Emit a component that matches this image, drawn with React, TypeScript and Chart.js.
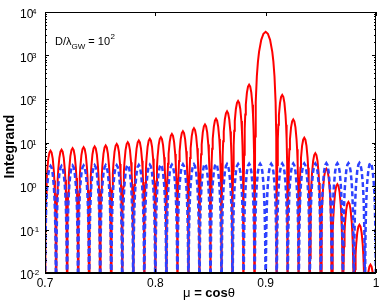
import React, { useEffect, useRef } from "react";
import { Chart, registerables } from "chart.js";

Chart.register(...registerables);

// ---- data ----
// zero crossings of the red (solid) curve
const redEdges = [
  0.70, 0.71, 0.72, 0.73, 0.74, 0.75, 0.76, 0.77, 0.78, 0.79, 0.80, 0.81, 0.82, 0.83, 0.84,
  0.85, 0.86, 0.87, 0.88, 0.89, 0.91, 0.92, 0.93, 0.94, 0.95, 0.96, 0.97, 0.98, 0.99, 1.00,
];
// peak value of each red lobe (between consecutive edges)
const redPeaks = [
  6.5, 6.8, 7.4, 7.8, 8.1, 8.5, 9.3, 10.2, 11.1, 12.2, 13.3, 15.8, 18.2, 21.4, 26,
  35, 52, 90, 214, 3500, 124, 34, 12.8, 5.7, 2.5, 1.1, 0.43, 0.128, 0.0155,
];
// zero crossings of the blue (dashed) curve
const blueEdges = [
  0.70, 0.71, 0.72, 0.73, 0.74, 0.75, 0.76, 0.77, 0.78, 0.79, 0.80, 0.81, 0.82, 0.83, 0.84, 0.85,
  0.86, 0.87, 0.88, 0.89, 0.90, 0.91, 0.92, 0.93, 0.94, 0.95, 0.96, 0.97, 0.98, 0.99, 1.00,
];
const bluePeaks = [
  2.9, 2.9, 2.95, 2.95, 3.0, 3.0, 3.0, 3.05, 3.05, 3.1, 3.1, 3.1, 3.15, 3.15, 3.2,
  3.2, 3.2, 3.2, 3.25, 3.25, 3.25, 3.3, 3.3, 3.3, 3.3, 3.35, 3.35, 3.35, 3.4, 3.4,
];
// shape of one lobe: fractional position across the lobe and relative height
const lobeT = [0, 0.02, 0.05, 0.1, 0.15, 0.2, 0.3, 0.4, 0.5, 0.6, 0.7, 0.8, 0.85, 0.9, 0.95, 0.98];
const lobeRel = [0, 0.0039, 0.0245, 0.0955, 0.206, 0.345, 0.655, 0.905, 1, 0.905, 0.655, 0.345, 0.206, 0.0955, 0.0245, 0.0039];
const ZERO = 1e-6;

const xTicks = [0.7, 0.8, 0.9, 1.0];
const xTickLabels = ["0.7", "0.8", "0.9", "1"];
const yExps = [-2, -1, 0, 1, 2, 3, 4];
const yExpLabels = ["-2", "-1", "0", "1", "2", "3", "4"];

function buildSeries(edges: number[], peaks: number[]) {
  const pts: { x: number; y: number }[] = [];
  for (let i = 0; i < peaks.length; i++) {
    const a = edges[i];
    const b = edges[i + 1];
    for (let j = 0; j < lobeT.length; j++) {
      pts.push({ x: a + lobeT[j] * (b - a), y: j === 0 ? ZERO : peaks[i] * lobeRel[j] });
    }
  }
  pts.push({ x: edges[edges.length - 1], y: ZERO });
  return pts;
}

const FONT = "'Liberation Sans', Arial, Helvetica, sans-serif";

const decor = {
  id: "decor",
  afterDraw(chart: any) {
    const { ctx, chartArea: a, scales } = chart;
    const xs = scales.x;
    const ys = scales.y;
    ctx.save();
    ctx.strokeStyle = "#000";
    ctx.fillStyle = "#000";
    // frame
    ctx.lineWidth = 1;
    ctx.beginPath();
    ctx.moveTo(a.left + 0.5, a.bottom);
    ctx.lineTo(a.left + 0.5, a.top + 0.5);
    ctx.lineTo(a.right - 0.5, a.top + 0.5);
    ctx.lineTo(a.right - 0.5, a.bottom);
    ctx.stroke();
    ctx.lineWidth = 2;
    ctx.beginPath();
    ctx.moveTo(a.left, a.bottom);
    ctx.lineTo(a.right, a.bottom);
    ctx.stroke();
    // x ticks
    ctx.lineWidth = 1;
    ctx.beginPath();
    xTicks.forEach((v) => {
      const px = Math.round(xs.getPixelForValue(v)) + 0.5;
      ctx.moveTo(px, a.bottom);
      ctx.lineTo(px, a.bottom - 4);
      ctx.moveTo(px, a.top);
      ctx.lineTo(px, a.top + 4);
    });
    // y ticks (major + minor)
    yExps.forEach((e, idx) => {
      const py = Math.round(ys.getPixelForValue(Math.pow(10, e))) + 0.5;
      ctx.moveTo(a.left, py);
      ctx.lineTo(a.left + 4, py);
      ctx.moveTo(a.right, py);
      ctx.lineTo(a.right - 4, py);
      if (idx < yExps.length - 1) {
        for (let m = 2; m <= 9; m++) {
          const pm = Math.round(ys.getPixelForValue(m * Math.pow(10, e))) + 0.5;
          ctx.moveTo(a.left, pm);
          ctx.lineTo(a.left + 2, pm);
          ctx.moveTo(a.right, pm);
          ctx.lineTo(a.right - 2, pm);
        }
      }
    });
    ctx.stroke();

    // x tick labels
    ctx.font = `12px ${FONT}`;
    ctx.textAlign = "center";
    ctx.textBaseline = "alphabetic";
    xTicks.forEach((v, i) => {
      ctx.fillText(xTickLabels[i], xs.getPixelForValue(v), a.bottom + 14);
    });
    // y tick labels: 10^e
    yExps.forEach((e, i) => {
      const py = ys.getPixelForValue(Math.pow(10, e));
      ctx.textAlign = "left";
      ctx.font = `12px ${FONT}`;
      ctx.fillText("10", 20, py + 6);
      ctx.font = `8px ${FONT}`;
      ctx.fillText(yExpLabels[i], 32, py + 2);
    });

    // x title: μ = cosθ
    const cx = (a.left + a.right) / 2 - 1.5;
    const by = a.bottom + 24;
    const parts = [
      { t: "\u03bc", f: `13px ${FONT}` },
      { t: " = ", f: `bold 13px ${FONT}` },
      { t: "cos", f: `bold 13px ${FONT}` },
      { t: "\u03b8", f: `13px ${FONT}` },
    ];
    let total = 0;
    parts.forEach((p) => {
      ctx.font = p.f;
      total += ctx.measureText(p.t).width;
    });
    let x0 = cx - total / 2;
    ctx.textAlign = "left";
    parts.forEach((p) => {
      ctx.font = p.f;
      ctx.fillText(p.t, x0, by);
      x0 += ctx.measureText(p.t).width;
    });

    // y title
    ctx.save();
    ctx.translate(14, (a.top + a.bottom) / 2 + 4);
    ctx.rotate(-Math.PI / 2);
    ctx.font = `bold 14px ${FONT}`;
    ctx.textAlign = "center";
    ctx.fillText("Integrand", 0, 0);
    ctx.restore();

    // annotation D/λ_GW = 10^2
    ctx.textAlign = "left";
    let ax = a.left + 10;
    const ay = a.top + 33;
    ctx.font = `11px ${FONT}`;
    ctx.fillText("D/\u03bb", ax, ay);
    ax += ctx.measureText("D/\u03bb").width;
    ctx.font = `8px ${FONT}`;
    ctx.fillText("GW", ax, ay + 4);
    ax += ctx.measureText("GW").width;
    ctx.font = `11px ${FONT}`;
    ctx.fillText(" = 10", ax, ay);
    ax += ctx.measureText(" = 10").width;
    ctx.font = `8px ${FONT}`;
    ctx.fillText("2", ax + 0.5, ay - 6);

    ctx.restore();
  },
};

export default function App() {
  const ref = useRef<HTMLCanvasElement | null>(null);
  useEffect(() => {
    if (!ref.current) return;
    const chart = new Chart(ref.current, {
      type: "line",
      data: {
        datasets: [
          {
            label: "blue",
            data: buildSeries(blueEdges, bluePeaks),
            borderColor: "rgb(45,65,255)",
            borderWidth: 2.5,
            borderDash: [5, 3],
            pointRadius: 0,
            fill: false,
            tension: 0,
          },
          {
            label: "red",
            data: buildSeries(redEdges, redPeaks),
            borderColor: "rgb(255,0,0)",
            borderWidth: 2,
            pointRadius: 0,
            fill: false,
            tension: 0,
          },
        ],
      },
      options: {
        animation: false,
        responsive: false,
        devicePixelRatio: 1,
        layout: { padding: { left: 45, right: 6, top: 12, bottom: 32 } },
        plugins: { legend: { display: false }, tooltip: { enabled: false } },
        scales: {
          x: { type: "linear", min: 0.7, max: 1.0, display: false },
          y: { type: "logarithmic", min: 0.01, max: 10000, display: false },
        },
      },
      plugins: [decor],
    });
    return () => chart.destroy();
  }, []);
  return (
    <div style={{ position: "fixed", left: 0, top: 0, width: 382, height: 305, background: "#fff" }}>
      <canvas ref={ref} width={382} height={305} />
    </div>
  );
}
